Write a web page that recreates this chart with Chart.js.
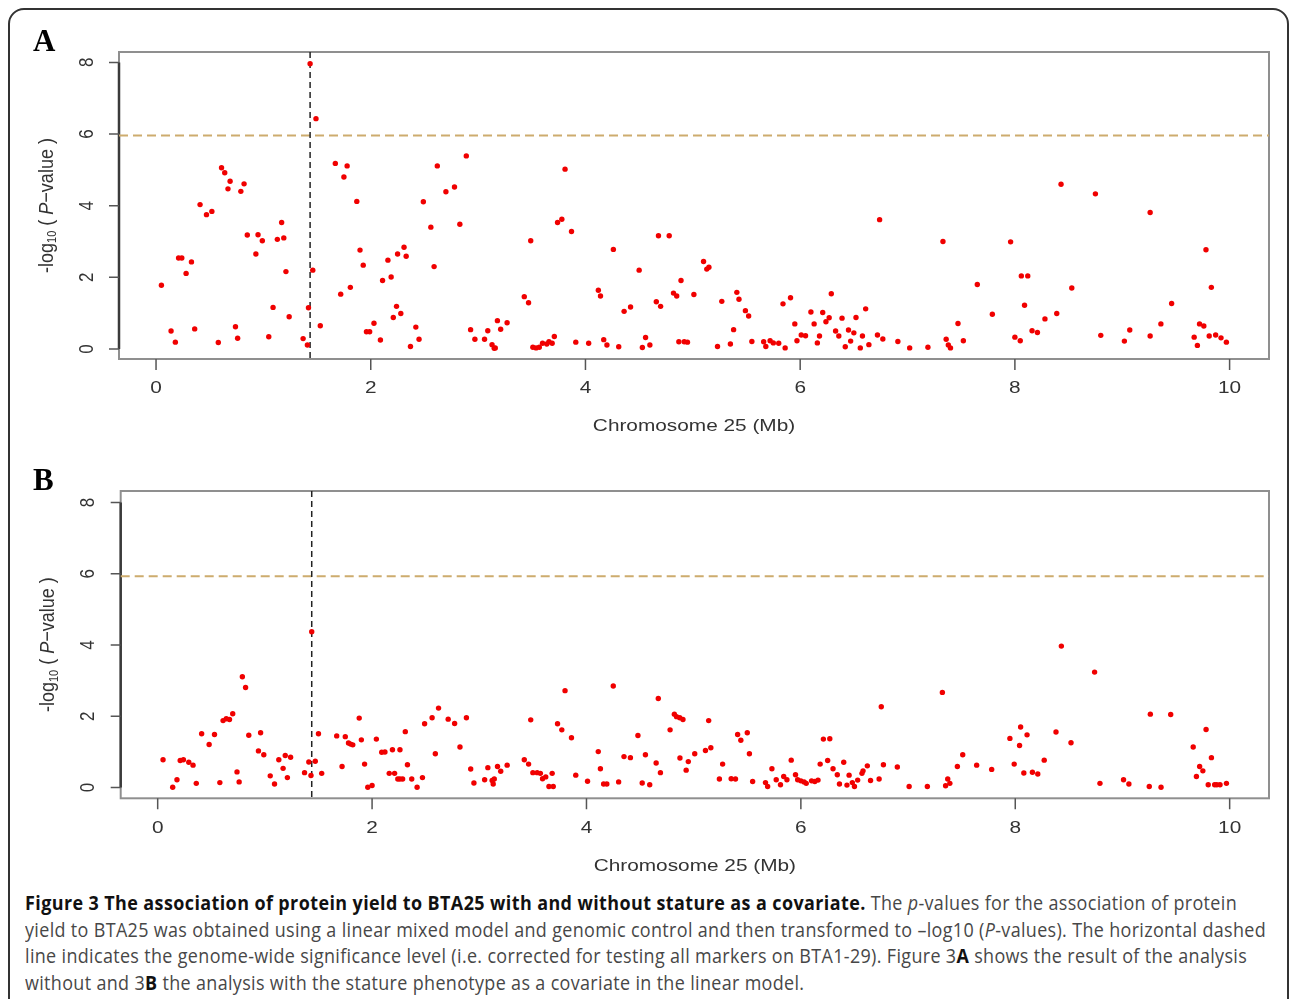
<!DOCTYPE html>
<html>
<head>
<meta charset="utf-8">
<script src="https://cdn.jsdelivr.net/npm/chart.js@4.4.1/dist/chart.umd.min.js"></script>
<style>
  body { margin: 0; width: 1290px; height: 999px; background: #fff; overflow: hidden; position: relative; }
  #frame { position: absolute; left: 8px; top: 8px; width: 1281px; height: 1100px; box-sizing: border-box;
           border: 2px solid #333; border-radius: 16px; }
  canvas { position: absolute; left: 0; }
  #caption { position: absolute; left: 25px; top: 890px; font-family: "Open Sans", sans-serif; font-size: 19.5px;
             line-height: 26.7px; color: #474747; white-space: nowrap; transform-origin: 0 0; letter-spacing: 0.38px; }
  #caption > div { width: max-content; }
  #caption b { color: #111; }
  #cap1 > b { letter-spacing: 0.45px; }
</style>
</head>
<body>
<div id="frame"></div>
<canvas id="chartA" width="1290" height="440" style="top:0"></canvas>
<canvas id="chartB" width="1290" height="440" style="top:440px"></canvas>
<div id="caption">
  <div id="cap1"><b>Figure 3 The association of protein yield to BTA25 with and without stature as a covariate.</b> The <i>p</i>-values for the association of protein</div>
  <div>yield to BTA25 was obtained using a linear mixed model and genomic control and then transformed to –log10 (<i>P</i>-values). The horizontal dashed</div>
  <div>line indicates the genome-wide significance level (i.e. corrected for testing all markers on BTA1-29). Figure 3<b>A</b> shows the result of the analysis</div>
  <div>without and 3<b>B</b> the analysis with the stature phenotype as a covariate in the linear model.</div>
</div>
<script>
// Panel A: without stature as covariate (position in Mb, -log10 P)
const posA = [0.05,0.14,0.18,0.21,0.24,0.28,0.33,0.36,0.41,0.47,0.52,0.58,0.61,0.64,0.67,0.69,0.74,0.76,0.79,0.82,
  0.85,0.93,0.95,0.99,1.05,1.09,1.13,1.17,1.19,1.21,1.24,1.37,1.41,1.42,1.435,1.46,1.49,1.53,1.67,1.72,
  1.75,1.78,1.81,1.87,1.90,1.93,1.96,1.99,2.03,2.09,2.11,2.16,2.19,2.21,2.24,2.25,2.28,2.31,2.33,2.37,
  2.42,2.45,2.49,2.56,2.59,2.62,2.70,2.78,2.83,2.89,2.93,2.97,3.06,3.09,3.13,3.15,3.16,3.18,3.21,3.27,
  3.43,3.47,3.49,3.51,3.54,3.57,3.60,3.64,3.66,3.69,3.71,3.74,3.78,3.81,3.87,3.91,4.03,4.12,4.14,4.17,
  4.20,4.26,4.31,4.36,4.42,4.50,4.53,4.56,4.60,4.66,4.68,4.70,4.78,4.82,4.85,4.87,4.89,4.92,4.95,5.01,
  5.10,5.13,5.15,5.23,5.27,5.35,5.38,5.41,5.43,5.49,5.52,5.55,5.66,5.68,5.72,5.75,5.80,5.84,5.86,5.91,
  5.95,5.97,6.01,6.05,6.10,6.13,6.16,6.18,6.21,6.24,6.27,6.29,6.33,6.36,6.39,6.42,6.45,6.47,6.50,6.52,
  6.56,6.58,6.61,6.64,6.72,6.74,6.77,6.91,7.02,7.19,7.33,7.36,7.38,7.40,7.47,7.52,7.65,7.79,7.96,8.00,
  8.05,8.06,8.09,8.12,8.16,8.21,8.28,8.39,8.43,8.53,8.75,8.80,9.02,9.07,9.26,9.26,9.36,9.46,9.67,9.70,
  9.72,9.76,9.78,9.81,9.83,9.87,9.92,9.97];
const logpA = [1.78,0.50,0.19,2.54,2.54,2.11,2.43,0.56,4.03,3.75,3.84,0.18,5.06,4.92,4.47,4.68,0.62,0.30,4.40,4.61,
  3.18,2.65,3.19,3.02,0.34,1.16,3.06,3.53,3.10,2.16,0.90,0.29,0.11,1.15,7.96,2.20,6.43,0.65,5.18,1.53,
  4.80,5.11,1.72,4.12,2.76,2.34,0.48,0.48,0.72,0.25,1.91,2.48,2.01,0.88,1.19,2.65,0.99,2.84,2.59,0.07,
  0.61,0.27,4.11,3.40,2.30,5.11,4.39,4.52,3.48,5.39,0.54,0.27,0.27,0.51,0.12,0.02,0.03,0.79,0.55,0.73,
  1.46,1.29,3.02,0.05,0.03,0.05,0.16,0.14,0.20,0.16,0.35,3.53,3.62,5.02,3.28,0.19,0.16,1.64,1.48,0.26,
  0.11,2.78,0.06,1.05,1.17,2.20,0.04,0.32,0.11,1.32,3.16,1.19,3.16,1.56,1.48,0.20,1.91,0.20,0.19,1.52,
  2.44,2.23,2.28,0.07,1.33,0.14,0.54,1.58,1.39,1.07,0.92,0.21,0.20,0.07,0.23,0.17,0.16,1.26,0.03,1.43,
  0.70,0.23,0.39,0.37,1.03,0.70,0.17,0.36,1.02,0.76,0.87,1.54,0.50,0.36,0.86,0.06,0.53,0.22,0.45,0.88,
  0.03,0.36,1.12,0.12,0.39,3.61,0.28,0.21,0.03,0.05,3.00,0.27,0.11,0.03,0.71,0.23,1.80,0.97,2.99,0.33,
  0.23,2.04,1.22,2.04,0.51,0.46,0.84,0.99,4.60,1.70,4.33,0.38,0.22,0.53,0.36,3.81,0.70,1.27,0.33,0.10,
  0.70,0.64,2.77,0.36,1.72,0.39,0.31,0.19];

// Panel B: with stature as covariate
const posB = [0.05,0.14,0.18,0.21,0.24,0.29,0.33,0.36,0.41,0.48,0.53,0.58,0.61,0.64,0.67,0.70,0.74,0.76,0.79,0.82,
  0.85,0.94,0.96,0.99,1.05,1.09,1.13,1.17,1.19,1.21,1.24,1.37,1.41,1.43,1.437,1.47,1.50,1.53,1.67,1.72,
  1.75,1.78,1.80,1.82,1.88,1.90,1.93,1.96,2.00,2.04,2.09,2.12,2.16,2.19,2.21,2.24,2.26,2.26,2.285,2.31,
  2.33,2.37,2.42,2.47,2.49,2.56,2.59,2.62,2.71,2.77,2.82,2.88,2.92,2.95,3.05,3.08,3.12,3.13,3.14,3.17,
  3.20,3.26,3.42,3.46,3.48,3.50,3.54,3.57,3.59,3.62,3.65,3.68,3.69,3.73,3.77,3.80,3.86,3.90,4.01,4.11,
  4.13,4.16,4.19,4.25,4.30,4.35,4.41,4.48,4.52,4.55,4.59,4.65,4.67,4.69,4.78,4.82,4.84,4.87,4.90,4.872,
  4.93,4.95,5.01,5.11,5.14,5.16,5.24,5.27,5.35,5.39,5.41,5.44,5.50,5.52,5.55,5.67,5.69,5.73,5.77,5.81,
  5.84,5.87,5.91,5.95,5.97,6.00,6.03,6.05,6.10,6.13,6.16,6.18,6.21,6.25,6.27,6.30,6.34,6.36,6.40,6.43,
  6.45,6.48,6.50,6.53,6.57,6.58,6.62,6.65,6.73,6.75,6.77,6.90,7.01,7.18,7.32,7.35,7.37,7.39,7.46,7.51,
  7.64,7.78,7.95,7.99,8.04,8.05,8.08,8.11,8.16,8.21,8.27,8.38,8.43,8.52,8.74,8.79,9.01,9.06,9.25,9.26,
  9.36,9.45,9.66,9.69,9.72,9.75,9.78,9.80,9.83,9.86,9.88,9.91,9.97];
const logpB = [0.78,0.01,0.22,0.76,0.78,0.71,0.63,0.12,1.51,1.21,1.49,0.14,1.88,1.93,1.91,2.07,0.44,0.16,3.11,2.81,
  1.47,1.03,1.54,0.92,0.33,0.10,0.78,0.54,0.90,0.28,0.85,0.42,0.72,0.34,4.37,0.74,1.51,0.40,1.45,0.59,
  1.43,1.25,1.22,1.20,1.95,1.34,0.66,0.01,0.06,1.36,0.99,1.00,0.40,1.06,0.40,0.24,1.06,0.24,0.24,1.57,
  0.64,0.24,0.01,0.28,1.79,1.96,0.95,2.23,1.92,1.80,1.14,1.96,0.52,0.13,0.22,0.56,0.20,0.10,0.24,0.59,
  0.46,0.63,0.78,0.66,1.90,0.42,0.42,0.40,0.25,0.30,0.03,0.40,0.03,1.79,1.62,2.72,1.40,0.35,0.18,1.01,
  0.53,0.10,0.10,2.85,0.16,0.87,0.84,1.46,0.13,0.92,0.08,0.69,2.50,0.42,1.62,2.06,1.99,1.96,1.91,0.83,
  0.49,0.73,0.95,1.04,1.88,1.12,0.24,0.66,0.25,0.24,1.49,1.33,1.54,0.95,0.17,0.14,0.03,0.53,0.22,0.08,
  0.31,0.22,0.77,0.36,0.22,0.19,0.16,0.12,0.19,0.17,0.21,0.66,1.36,0.76,1.37,0.53,0.36,0.10,0.71,0.07,
  0.35,0.14,0.03,0.21,0.40,0.47,0.61,0.20,0.24,2.27,0.64,0.58,0.03,0.03,2.67,0.05,0.24,0.12,0.59,0.92,
  0.63,0.51,1.38,0.66,1.18,1.70,0.41,1.48,0.43,0.38,0.77,1.56,3.97,1.26,3.24,0.12,0.22,0.10,0.03,2.06,
  0.01,2.05,1.14,0.31,0.59,0.47,1.63,0.08,0.84,0.08,0.08,0.08,0.12];

const xTicks = [0, 2, 4, 6, 8, 10];
const yTicks = [0, 2, 4, 6, 8];
const sigA = 5.96, sigB = 5.93;      // genome-wide significance
const leadA = 1.435, leadB = 1.437;  // top marker position
const xTitle = 'Chromosome 25 (Mb)';

const SANS = '"Liberation Sans", Arial, sans-serif';

function stretchText(ctx, txt, x, y, sx) {
  ctx.save();
  ctx.translate(x, y);
  ctx.scale(sx, 1);
  ctx.fillText(txt, 0, 0);
  ctx.restore();
}

const rPlot = {
  id: 'rPlot',
  beforeDatasetsDraw(chart, args, o) {
    const ctx = chart.ctx, a = chart.chartArea;
    const xs = chart.scales.x, ys = chart.scales.y;
    ctx.save();
    // box
    ctx.strokeStyle = '#8f8f8f';
    ctx.lineWidth = 2;
    ctx.strokeRect(a.left, a.top, a.right - a.left, a.bottom - a.top);
    // y axis line
    ctx.strokeStyle = '#3a3a3a';
    ctx.lineWidth = 2.5;
    ctx.beginPath();
    ctx.moveTo(a.left, ys.getPixelForValue(yTicks[0]));
    ctx.lineTo(a.left, ys.getPixelForValue(yTicks[yTicks.length - 1]));
    ctx.stroke();
    // ticks
    ctx.strokeStyle = '#555';
    ctx.lineWidth = 1.5;
    ctx.beginPath();
    yTicks.forEach(v => {
      const y = ys.getPixelForValue(v);
      ctx.moveTo(a.left, y); ctx.lineTo(a.left - 10, y);
    });
    xTicks.forEach(v => {
      const x = xs.getPixelForValue(v);
      ctx.moveTo(x, a.bottom); ctx.lineTo(x, a.bottom + 11);
    });
    ctx.stroke();
    // significance line
    ctx.strokeStyle = 'rgb(205,172,110)';
    ctx.lineWidth = 2;
    ctx.setLineDash([9, 5]);
    ctx.beginPath();
    const ty = ys.getPixelForValue(o.sig);
    ctx.moveTo(a.left, ty); ctx.lineTo(a.right, ty);
    ctx.stroke();
    // lead marker line
    ctx.strokeStyle = '#222';
    ctx.lineWidth = 1.5;
    ctx.setLineDash([6, 4]);
    ctx.beginPath();
    const lx = xs.getPixelForValue(o.lead);
    ctx.moveTo(lx, a.top); ctx.lineTo(lx, a.bottom);
    ctx.stroke();
    ctx.restore();
  },
  afterDraw(chart, args, o) {
    const ctx = chart.ctx, a = chart.chartArea;
    const xs = chart.scales.x, ys = chart.scales.y;
    ctx.save();
    ctx.fillStyle = '#333';
    ctx.textAlign = 'center';
    ctx.textBaseline = 'middle';
    // x tick labels
    ctx.font = '16px ' + SANS;
    xTicks.forEach(v => stretchText(ctx, String(v), xs.getPixelForValue(v), a.bottom + 30, 1.3));
    // x title
    stretchText(ctx, xTitle, (a.left + a.right) / 2, a.bottom + 68, 1.3);
    // y tick labels (rotated)
    ctx.font = '17px ' + SANS;
    yTicks.forEach(v => {
      ctx.save();
      ctx.translate(a.left - 32, ys.getPixelForValue(v));
      ctx.rotate(-Math.PI / 2);
      ctx.scale(1, 1.2);
      ctx.fillText(String(v), 0, 0);
      ctx.restore();
    });
    // y title: -log10 ( P-value )
    const segs = [
      { t: '-log', f: '18px ' + SANS, dy: 0 },
      { t: '10', f: '11px ' + SANS, dy: 5 },
      { t: ' ( ', f: '18px ' + SANS, dy: 0 },
      { t: 'P', f: 'italic 18px ' + SANS, dy: 0 },
      { t: '\u2212value )', f: '18px ' + SANS, dy: 0 }
    ];
    ctx.save();
    ctx.translate(a.left - 72, (a.top + a.bottom) / 2);
    ctx.rotate(-Math.PI / 2);
    ctx.scale(1, 1.15);
    ctx.textAlign = 'left';
    let total = 0;
    segs.forEach(s => { ctx.font = s.f; s.w = ctx.measureText(s.t).width; total += s.w; });
    let x = -total / 2;
    segs.forEach(s => { ctx.font = s.f; ctx.fillText(s.t, x, s.dy); x += s.w; });
    ctx.restore();
    // panel letter
    ctx.fillStyle = '#000';
    ctx.textAlign = 'left';
    ctx.textBaseline = 'alphabetic';
    ctx.font = 'bold 31px "Liberation Serif", "Times New Roman", serif';
    ctx.fillText(o.letter, o.lx, o.ly);
    ctx.restore();
  }
};

function panel(id, xs, ys, o) {
  const pts = xs.map((x, i) => ({ x: x, y: ys[i] }));
  return new Chart(document.getElementById(id), {
    type: 'scatter',
    data: {
      datasets: [{
        data: pts,
        pointRadius: 2.7,
        pointHoverRadius: 2.7,
        backgroundColor: '#f00000',
        borderWidth: 0
      }]
    },
    options: {
      responsive: false,
      animation: false,
      events: [],
      layout: { padding: o.pad },
      plugins: { legend: { display: false }, tooltip: { enabled: false }, rPlot: o },
      scales: {
        x: { type: 'linear', display: false, min: -0.345, max: 10.367 },
        y: { type: 'linear', display: false, min: o.ymin, max: o.ymax }
      }
    },
    plugins: [rPlot]
  });
}

panel('chartA', posA, logpA, {
  sig: sigA, lead: leadA, letter: 'A', lx: 33, ly: 51,
  ymin: -0.28, ymax: 8.29,
  pad: { left: 119, top: 52, right: 21, bottom: 81 }
});
panel('chartB', posB, logpB, {
  sig: sigB, lead: leadB, letter: 'B', lx: 33, ly: 50,
  ymin: -0.30, ymax: 8.32,
  pad: { left: 120.7, top: 51, right: 21, bottom: 81.7 }
});

// fit caption width to the figure
const cap = document.getElementById('caption');
const w1 = document.getElementById('cap1').getBoundingClientRect().width;
cap.style.transform = 'scaleX(' + (1212 / w1) + ')';
</script>
</body>
</html>
